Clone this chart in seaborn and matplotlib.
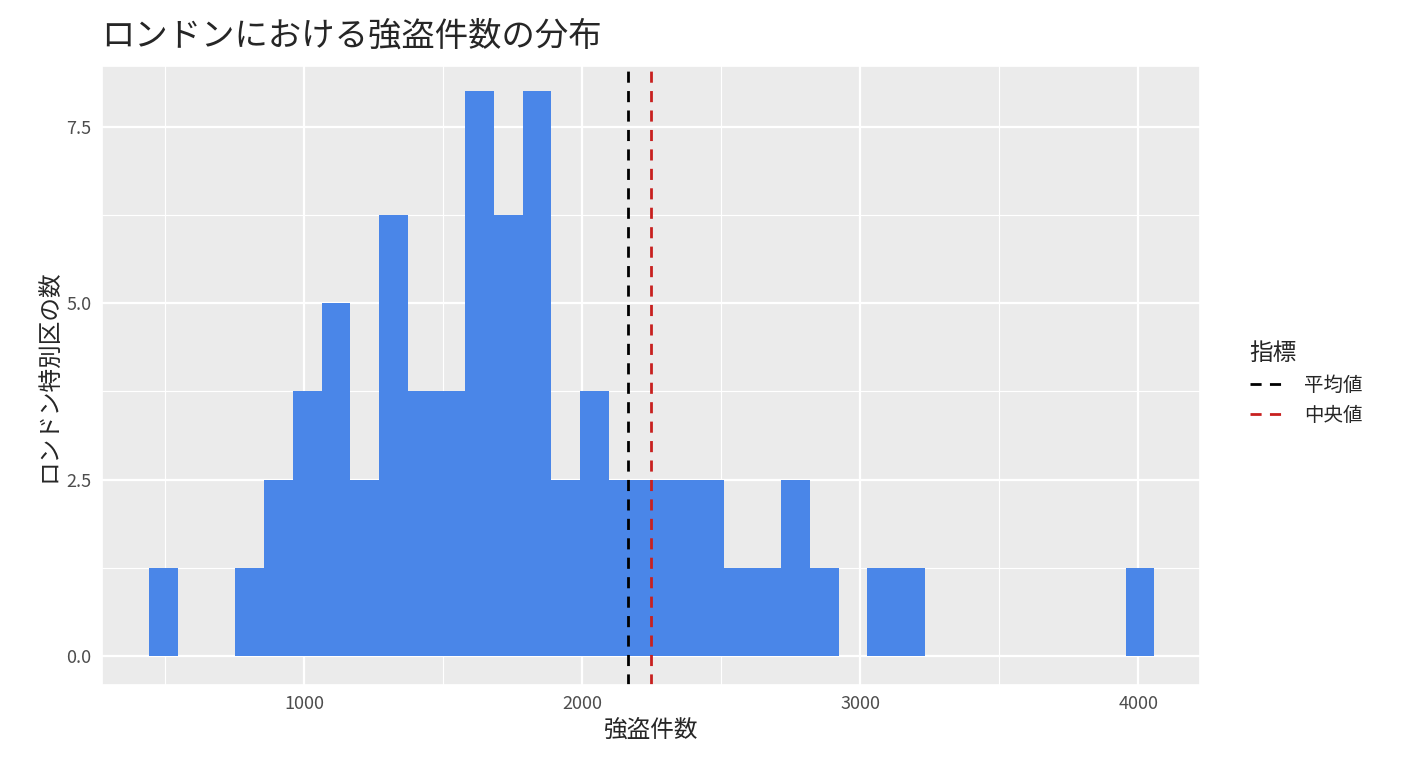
import matplotlib
matplotlib.use("Agg")
import matplotlib.pyplot as plt
import seaborn as sns
import numpy as np
import pandas as pd
from matplotlib.lines import Line2D

bin_start = 443.0
bin_width = 103.3
counts = [1.25, 0, 0, 1.25, 2.5, 3.75, 5, 2.5, 6.25, 3.75, 3.75, 8, 6.25, 8, 2.5, 3.75,
          2.5, 2.5, 2.5, 2.5, 1.25, 1.25, 2.5, 1.25, 0, 1.25, 1.25, 0, 0, 0, 0, 0, 0, 0, 1.25]
mean_val = 2165
median_val = 2248

sns.set_theme(style="darkgrid", rc={"axes.facecolor": "#EBEBEB", "grid.color": "white"})
plt.rcParams['font.family'] = ['Noto Sans CJK JP', 'DejaVu Sans']

edges = bin_start + bin_width * np.arange(len(counts) + 1)
centers = (edges[:-1] + edges[1:]) / 2
df = pd.DataFrame({"x": centers, "w": counts})

fig = plt.figure(figsize=(14.08, 7.68), dpi=100)
ax = fig.add_axes([0.0724, 0.108, 0.78, 0.806])
sns.histplot(data=df, x="x", weights="w", bins=list(edges), color="#4A86E8", alpha=1.0,
             edgecolor="none", linewidth=0, ax=ax)
ax.axvline(mean_val, color="black", linestyle=(0, (4, 3)), linewidth=2)
ax.axvline(median_val, color="#C8201F", linestyle=(0, (4, 3)), linewidth=2)

ax.set_xlim(273, 4223)
ax.set_ylim(-0.41, 8.36)
ax.set_xticks([1000, 2000, 3000, 4000])
ax.set_xticks([500, 1500, 2500, 3500], minor=True)
ax.set_yticks([0, 2.5, 5.0, 7.5])
ax.set_yticklabels(["0.0", "2.5", "5.0", "7.5"])
ax.set_yticks([1.25, 3.75, 6.25], minor=True)
ax.grid(which="major", color="white", linewidth=1.6)
ax.grid(which="minor", color="white", linewidth=0.8)
ax.tick_params(labelsize=13, colors="#4D4D4D", length=4)
ax.set_xlabel("強盗件数", fontsize=17)
ax.set_ylabel("ロンドン特別区の数", fontsize=17)
fig.text(0.072, 0.94, "ロンドンにおける強盗件数の分布", fontsize=24)

handles = [Line2D([0], [0], color="black", linestyle=(0, (4, 3)), linewidth=2),
           Line2D([0], [0], color="#C8201F", linestyle=(0, (4, 3)), linewidth=2)]
leg = fig.legend(handles, ["平均値", "中央値"], title="指標", loc="center left",
                 bbox_to_anchor=(0.875, 0.5), frameon=False, fontsize=14,
                 title_fontsize=17, handlelength=2, alignment="left")
fig.savefig("out.png", dpi=100)
